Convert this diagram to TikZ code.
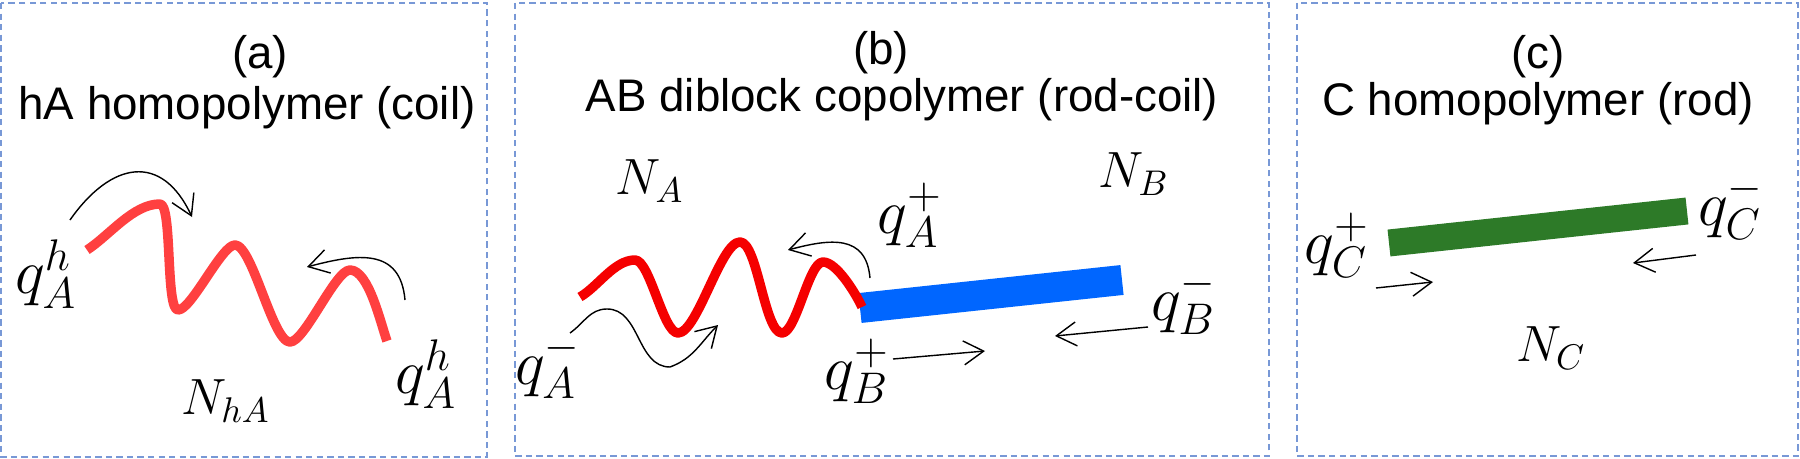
\RequirePackage{fix-cm}
\documentclass[tikz,border=0pt]{standalone}
\usepackage[no-math]{fontspec}
\setsansfont{Liberation Sans}
\usepackage{xcolor}
\usepackage{tikz}
\usetikzlibrary{arrows.meta}

\definecolor{boxblue}{RGB}{120,152,214}
\definecolor{coilred}{RGB}{255,64,64}
\definecolor{coildark}{RGB}{245,0,0}
\definecolor{rodblue}{RGB}{0,102,255}
\definecolor{rodgreen}{RGB}{45,122,40}

\begin{document}
\begin{tikzpicture}[
  font=\sffamily,
  panel/.style    = {draw=boxblue, line width=0.6pt, dash pattern=on 1.8pt off 1.2pt},
  paneltag/.style = {anchor=base, inner sep=0pt, font=\sffamily\fontsize{13}{15}\selectfont},
  ttl/.style      = {anchor=base, inner sep=0pt, font=\sffamily\fontsize{13}{15}\selectfont},
  lab/.style      = {inner sep=0pt, font=\fontsize{14.5}{17}\selectfont},
  qlab/.style     = {inner sep=0pt, font=\fontsize{18}{21}\selectfont},
  coil/.style     = {line width=2.7pt, line join=round},
  rod/.style      = {line width=#1, line cap=butt},
  arr/.style      = {-{Straight Barb[length=2mm, width=2.4mm]}, line width=0.4pt},
]
\useasboundingbox[fill=white] (0,0) rectangle (18,-4.59);

%% Panel frames
\draw[panel] (0.01,-0.03) rectangle (4.87,-4.57);
\draw[panel] (5.15,-0.03) rectangle (12.69,-4.56);
\draw[panel] (12.97,-0.03) rectangle (17.98,-4.56);

%% (a) hA homopolymer
\node[paneltag] (taga) at (2.60,-0.69) {(a)};
\node[ttl] (ttla) at (2.47,-1.20) {hA homopolymer (coil)};

\draw[coil, coilred] (0.87,-2.50) to[out=33,in=180,looseness=0.8] (1.60,-2.04)
  to[out=0,in=180,looseness=0.3] (1.78,-3.10)
  to[out=0,in=180,looseness=0.4] (2.35,-2.45)
  to[out=0,in=180,looseness=0.4] (2.90,-3.42)
  to[out=0,in=180,looseness=0.4] (3.50,-2.70)
  to[out=0,in=110,looseness=0.6] (3.87,-3.41);

\node[qlab] (qAhl) at (0.46,-2.74) {$q_A^h$};
\node[qlab] (qAhr) at (4.26,-3.74) {$q_A^h$};
\node[lab] (NhA)  at (2.26,-4.01) {$N_{hA}$};

\draw[arr] (0.70,-2.20) to[out=55,in=115,looseness=1.5] (1.92,-2.17);
\draw[arr] (4.05,-3.00) to[out=95,in=15,looseness=1.3] (3.07,-2.67);

%% (b) AB diblock copolymer
\node[paneltag] (tagb) at (8.81,-0.65) {(b)};
\node[ttl] (ttlb) at (9.02,-1.12) {AB diblock copolymer (rod-coil)};

\draw[rod=0.30cm, rodblue] (8.60,-3.08) -- (11.22,-2.80);
\draw[coil, coildark] (5.80,-2.97) to[out=30,in=180,looseness=0.8] (6.35,-2.60)
  to[out=0,in=180,looseness=0.45] (6.78,-3.33)
  to[out=0,in=180,looseness=0.45] (7.40,-2.42)
  to[out=0,in=180,looseness=0.45] (7.82,-3.33)
  to[out=0,in=180,looseness=0.45] (8.23,-2.62)
  to[out=0,in=115,looseness=0.6] (8.62,-3.07);

\node[lab] (NA)  at (6.50,-1.81) {$N_A$};
\node[qlab] (qAm) at (5.48,-3.66) {$q_A^-$};
\node[qlab] (qBp) at (8.57,-3.71) {$q_B^+$};
\node[qlab] (qAp) at (9.10,-2.15) {$q_A^+$};
\node[lab] (NB)  at (11.34,-1.74) {$N_B$};
\node[qlab] (qBm) at (11.84,-3.02) {$q_B^-$};

\draw[arr] (5.70,-3.33) to[out=35,in=180] (6.07,-3.09)
  to[out=0,in=180] (6.70,-3.67) to[out=20,in=225] (7.18,-3.25);
\draw[arr] (8.70,-2.78) to[out=95,in=15,looseness=1.3] (7.88,-2.50);
\draw[arr] (8.93,-3.59) -- (9.85,-3.51);
\draw[arr] (11.48,-3.27) -- (10.55,-3.36);

%% (c) C homopolymer
\node[paneltag] (tagc) at (15.38,-0.69) {(c)};
\node[ttl] (ttlc) at (15.38,-1.16) {C homopolymer (rod)};

\draw[rod=0.27cm, rodgreen] (13.89,-2.43) -- (16.87,-2.11);

\node[qlab] (qCp) at (13.37,-2.45) {$q_C^+$};
\node[qlab] (qCm) at (17.31,-2.07) {$q_C^-$};
\node[lab] (NC)  at (15.51,-3.48) {$N_C$};

\draw[arr] (13.76,-2.88) -- (14.33,-2.82);
\draw[arr] (16.96,-2.55) -- (16.33,-2.63);

\end{tikzpicture}
\end{document}
